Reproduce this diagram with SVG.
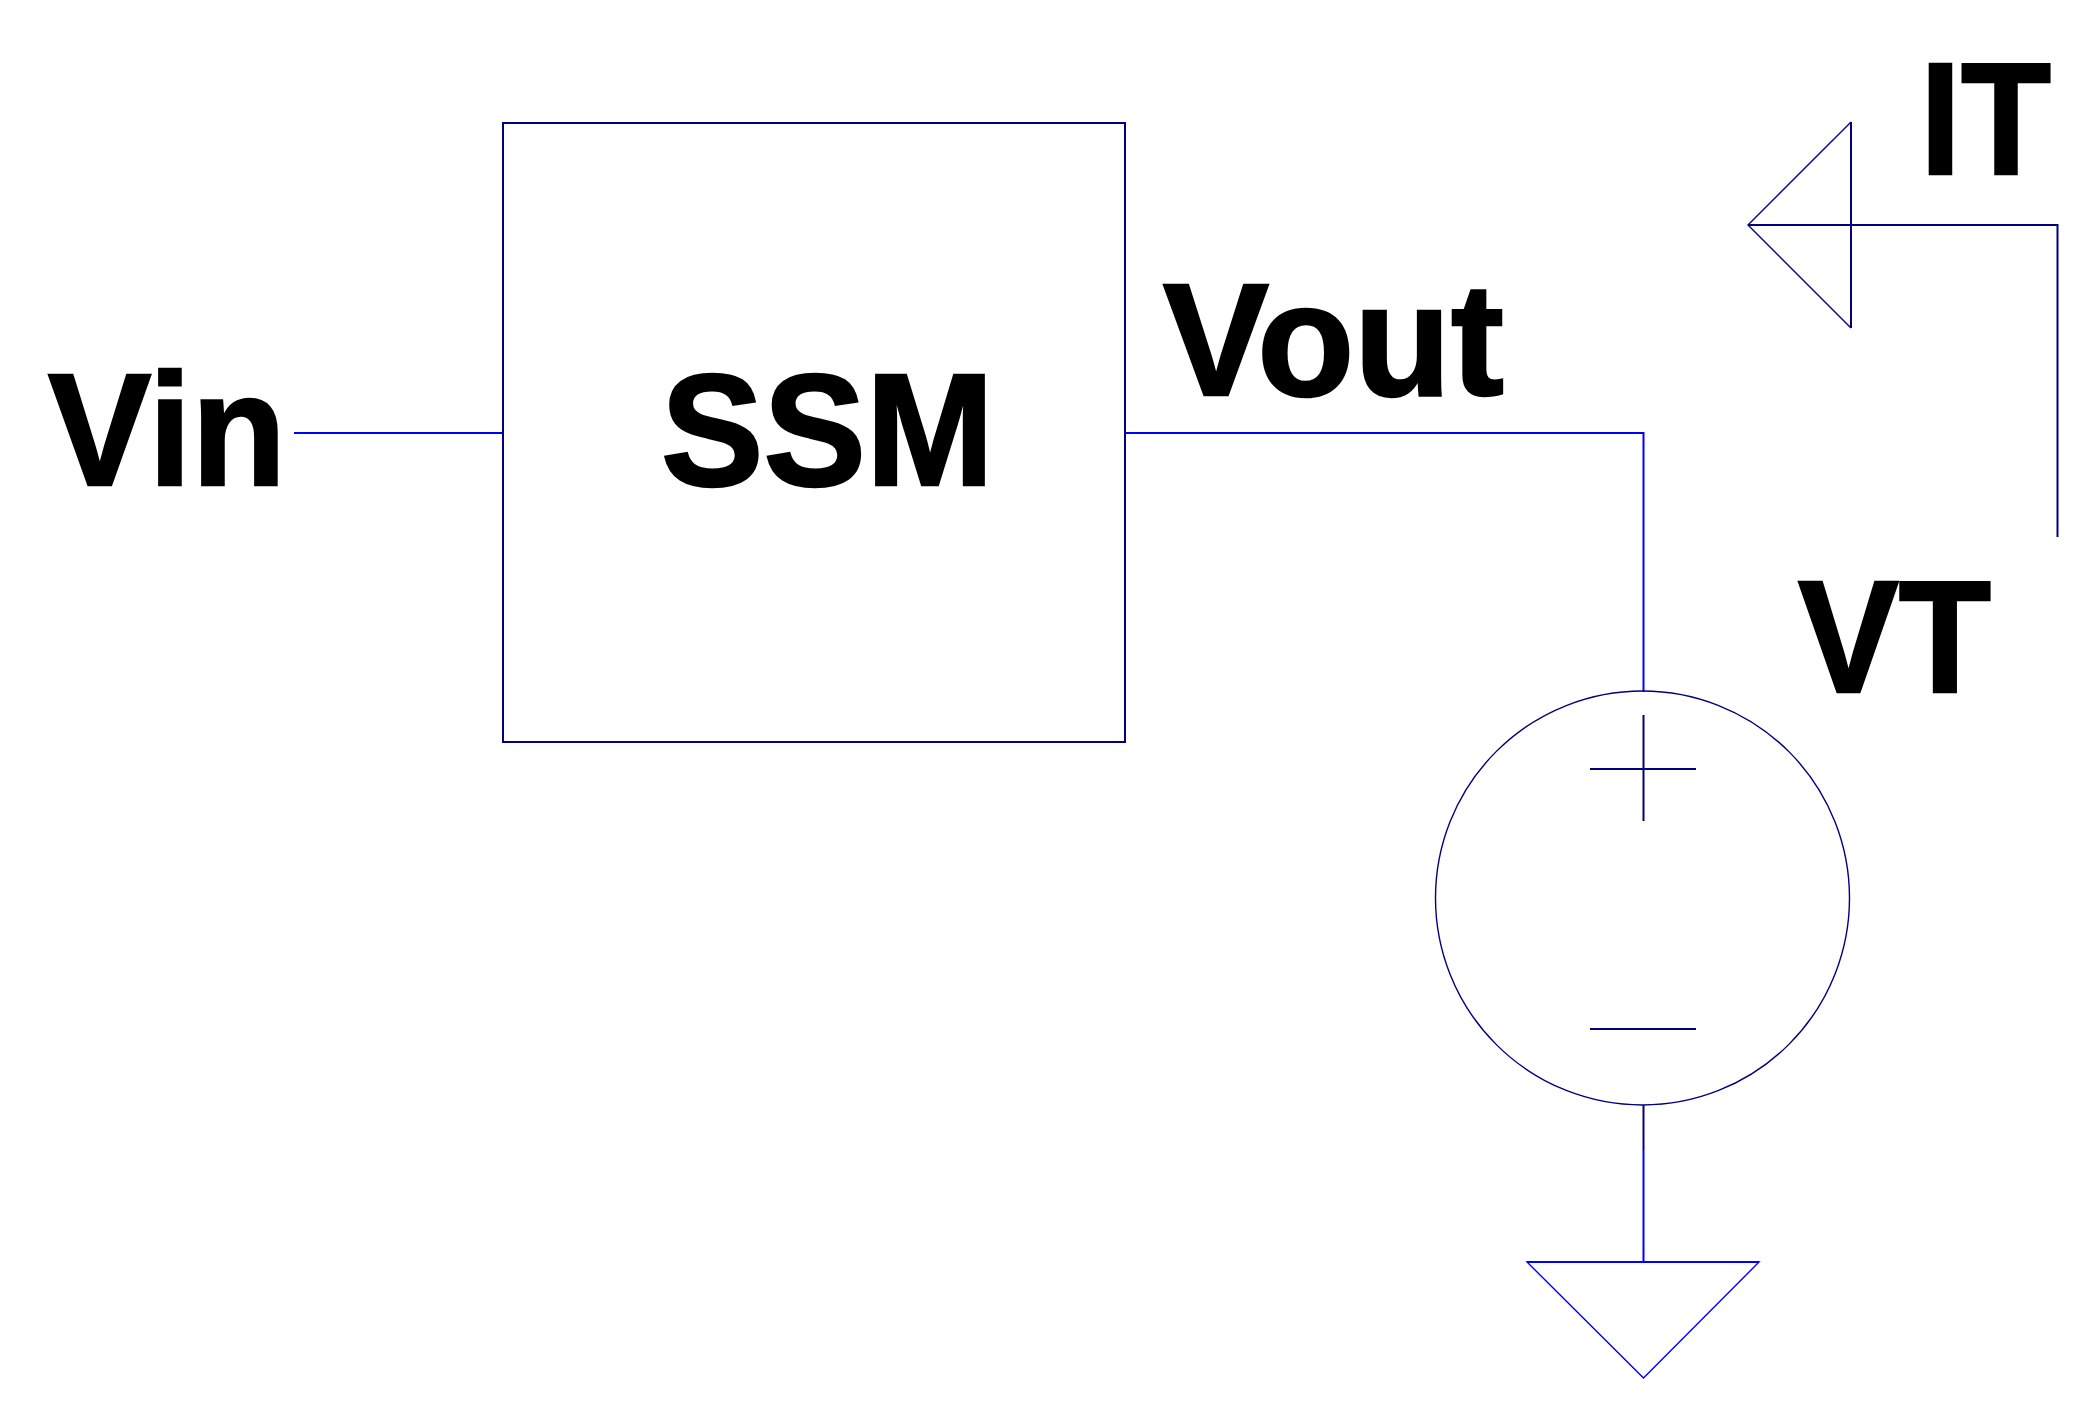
<svg xmlns="http://www.w3.org/2000/svg" width="2100" height="1404" viewBox="0 0 2100 1404">
<style>
.t{font-family:"Liberation Sans",Arial,sans-serif;font-weight:700;font-size:160px;fill:#000;stroke:#000;stroke-width:2.500}
.n{fill:none;stroke:#000080;stroke-width:2}
.b{fill:none;stroke:#0000ff;stroke-width:2}
.s{fill:none;stroke-width:1.4}
</style>
<rect width="2100" height="1404" fill="#fff"/>
<g id="connectors">
<path class="b" d="M294 433H503"/>
<path class="b" d="M1125 433H1643.500V692"/>
<path class="n" d="M1643.500 1105V1150"/>
<path class="b" d="M1643.500 1150V1262"/>
</g>
<g id="ssm"><rect class="n" x="503" y="123" width="622" height="619"/><text class="t" x="661" y="485" textLength="333" lengthAdjust="spacingAndGlyphs">SSM</text></g>
<g id="vin"><text class="t" x="48" y="485" textLength="238" lengthAdjust="spacingAndGlyphs">Vin</text></g>
<g id="vout"><text class="t" x="1163" y="395" textLength="341" lengthAdjust="spacingAndGlyphs">Vout</text></g>
<g id="source">
<circle class="n s" cx="1642.500" cy="898" r="207"/>
<path class="n" d="M1643.500 715V821M1590 769H1696M1590 1029H1696"/>
<text class="t" x="1798" y="691.500" textLength="193" lengthAdjust="spacingAndGlyphs">VT</text>
</g>
<g id="ground"><path class="b s" d="M1527 1262H1759L1643.500 1378Z"/><path class="b" d="M1527 1262H1759"/></g>
<g id="current">
<path class="n" d="M2057.500 537V225H1748"/>
<path class="n s" d="M1851 122L1748 225L1851 328"/>
<path class="n" d="M1851 122V328"/>
<text class="t" x="1920" y="174" textLength="131" lengthAdjust="spacingAndGlyphs">IT</text>
</g>
</svg>
